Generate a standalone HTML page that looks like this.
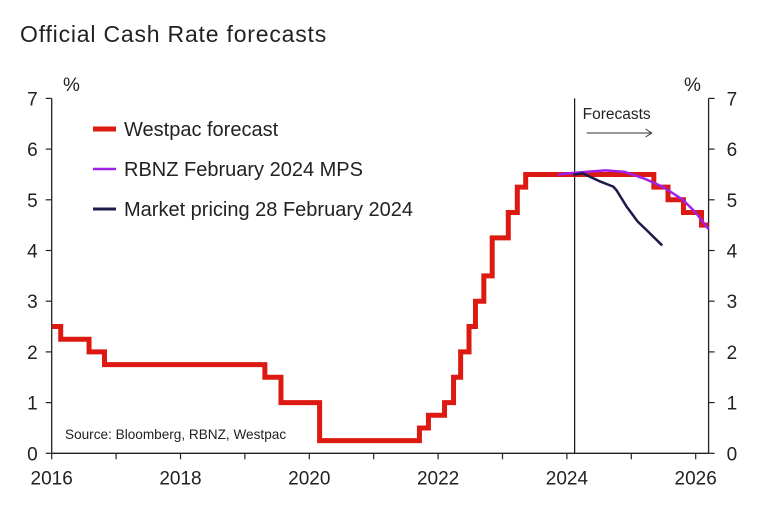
<!DOCTYPE html>
<html><head><meta charset="utf-8"><style>
body{margin:0;background:#fff;}
svg{display:block;font-family:"Liberation Sans",Arial,sans-serif;}
</style></head><body>
<svg id="c" width="759" height="505">
<text x="20" y="42" font-size="23" letter-spacing="0.8" fill="#222">Official Cash Rate forecasts</text>
<g id="g"></g>
</svg>
<script>
const yTicks=[0,1,2,3,4,5,6,7];
const xTickYears=[2016,2017,2018,2019,2020,2021,2022,2023,2024,2025,2026];
const xLabels=[2016,2018,2020,2022,2024,2026];
const stepDates=[2016.0,2016.14,2016.58,2016.82,2019.31,2019.56,2020.16,2021.71,2021.85,2022.1,2022.24,2022.35,2022.48,2022.58,2022.71,2022.84,2023.09,2023.23,2023.36,2025.35,2025.57,2025.81,2026.09];
const stepRates=[2.5,2.25,2.0,1.75,1.5,1.0,0.25,0.5,0.75,1.0,1.5,2.0,2.5,3.0,3.5,4.25,4.75,5.25,5.5,5.25,5.0,4.75,4.5];
const rbnzDates=[2023.86,2024.2,2024.6,2024.9,2025.2,2025.5,2025.8,2026.0,2026.2];
const rbnzRates=[5.5,5.54,5.58,5.55,5.42,5.25,5.0,4.75,4.42];
const mktDates=[2024.1,2024.25,2024.5,2024.72,2024.77,2024.93,2025.1,2025.24,2025.48];
const mktRates=[5.5,5.52,5.37,5.26,5.19,4.86,4.57,4.4,4.1];
const forecastStart=2024.12;
const xEnd=2026.2;

const X0=51.7,PY=64.4,Y0=453.3,PU=50.7;
const xs=d=>X0+(d-2016)*PY, ys=v=>Y0-v*PU;
const XR=xs(xEnd);
const g=document.getElementById('g');
const NS='http://www.w3.org/2000/svg';
function mk(t,a,txt){const e=document.createElementNS(NS,t);for(const k in a)e.setAttribute(k,a[k]);if(txt!=null)e.textContent=txt;g.appendChild(e);return e;}
let e=mk('line',{x1:X0,y1:ys(7),x2:X0,y2:Y0,stroke:'#222','stroke-width':1.3});

e=mk('line',{x1:XR,y1:ys(7),x2:XR,y2:Y0,stroke:'#222','stroke-width':1.3});

e=mk('line',{x1:X0,y1:Y0,x2:XR,y2:Y0,stroke:'#222','stroke-width':1.3});

yTicks.forEach(v=>{
 const y=ys(v);
 mk('line',{x1:X0-6,y1:y,x2:X0,y2:y,stroke:'#222','stroke-width':1.2});
 mk('line',{x1:XR,y1:y,x2:XR+6,y2:y,stroke:'#222','stroke-width':1.2});
 e=mk('text',{x:X0-14,y:y+7,'font-size':19,'text-anchor':'end',fill:'#222'},v);
 
 e=mk('text',{x:XR+18,y:y+7,'font-size':19,fill:'#222'},v);
 
});
xTickYears.forEach(yr=>{const x=xs(yr);mk('line',{x1:x,y1:Y0,x2:x,y2:Y0+6,stroke:'#222','stroke-width':1.2});});
xLabels.forEach(yr=>{
 e=mk('text',{x:xs(yr),y:Y0+31,'font-size':19,'text-anchor':'middle',fill:'#222'},yr);
 
});
e=mk('text',{x:63,y:91,'font-size':19,fill:'#222'},'%');

e=mk('text',{x:684,y:91,'font-size':19,fill:'#222'},'%');

const fx=xs(forecastStart);
e=mk('line',{x1:fx,y1:ys(7),x2:fx,y2:Y0,stroke:'#111','stroke-width':1.2});

e=mk('text',{x:fx+8,y:119,'font-size':15.5,fill:'#222'},'Forecasts');

e=mk('path',{d:`M${fx+12} 133H${fx+77}M${fx+71} 129L${fx+77} 133L${fx+71} 137`,stroke:'#333','stroke-width':1,fill:'none'});

let d='';
stepDates.forEach((t,i)=>{const x=xs(t),y=ys(stepRates[i]);d+= i===0?`M${x} ${y}`:`V${y}`;const nx=i<stepDates.length-1?xs(stepDates[i+1]):XR;d+=`H${nx}`;});
e=mk('path',{d,stroke:'#dd1a12','stroke-width':5,fill:'none','stroke-linejoin':'miter'});

e=mk('path',{d:'M'+rbnzDates.map((t,i)=>xs(t)+' '+ys(rbnzRates[i])).join('L'),stroke:'#a020e8','stroke-width':2.5,fill:'none','stroke-linejoin':'round'});

e=mk('path',{d:'M'+mktDates.map((t,i)=>xs(t)+' '+ys(mktRates[i])).join('L'),stroke:'#1c1a4a','stroke-width':2.5,fill:'none','stroke-linejoin':'round'});

const leg=[['Westpac forecast','#dd1a12',5,129],['RBNZ February 2024 MPS','#a020e8',2.5,169],['Market pricing 28 February 2024','#1c1a4a',3,209]];
leg.forEach(l=>{
 e=mk('line',{x1:93,y1:l[3],x2:116,y2:l[3],stroke:l[1],'stroke-width':l[2]});
 
 e=mk('text',{x:124,y:l[3]+7,'font-size':20,fill:'#222'},l[0]);
 
});
e=mk('text',{x:65,y:439,'font-size':13.6,fill:'#222'},'Source: Bloomberg, RBNZ, Westpac');

</script>
</body></html>
